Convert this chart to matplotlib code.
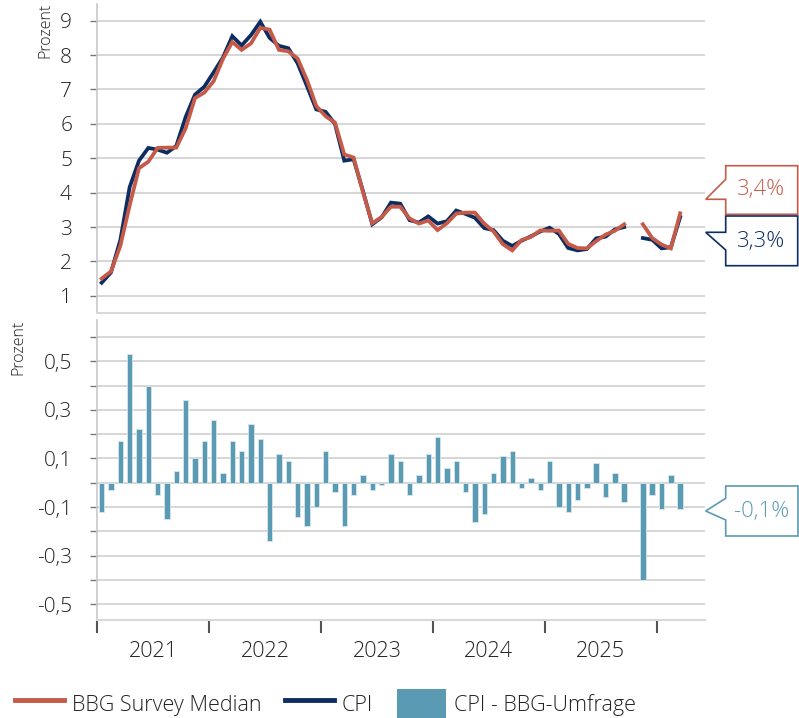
import numpy as np
import matplotlib
matplotlib.use('Agg')
import matplotlib.pyplot as plt
from matplotlib.patches import Polygon, Patch
from matplotlib.lines import Line2D

plt.rcParams['font.family'] = ['Open Sans', 'DejaVu Sans']

nan = np.nan
# monthly values, Jan 2021 .. Mar 2026 (Oct 2025 missing)
cpi = [1.38, 1.68, 2.62, 4.16, 4.93, 5.30, 5.25, 5.16, 5.36, 6.20, 6.85, 7.08,
       7.50, 7.93, 8.55, 8.28, 8.58, 8.97, 8.50, 8.27, 8.20, 7.76, 7.10, 6.42,
       6.35, 6.00, 4.93, 4.97, 4.05, 3.08, 3.28, 3.71, 3.68, 3.20, 3.13, 3.31,
       3.10, 3.17, 3.48, 3.38, 3.27, 2.97, 2.91, 2.60, 2.45, 2.60, 2.73, 2.87,
       2.98, 2.80, 2.39, 2.32, 2.36, 2.67, 2.72, 2.93, 3.00, nan, 2.68, 2.63,
       2.38, 2.41, 3.29]
survey = [1.50, 1.71, 2.45, 3.63, 4.71, 4.90, 5.30, 5.31, 5.31, 5.87, 6.75, 6.91,
          7.24, 7.89, 8.38, 8.15, 8.34, 8.79, 8.74, 8.15, 8.11, 7.90, 7.28, 6.52,
          6.22, 6.04, 5.11, 5.02, 4.02, 3.11, 3.29, 3.59, 3.59, 3.25, 3.10, 3.19,
          2.91, 3.11, 3.39, 3.42, 3.42, 3.10, 2.87, 2.50, 2.32, 2.62, 2.71, 2.90,
          2.89, 2.90, 2.51, 2.39, 2.38, 2.59, 2.78, 2.89, 3.08, nan, 3.08, 2.68,
          2.49, 2.38, 3.40]
diff = [-0.12, -0.03, 0.17, 0.53, 0.22, 0.40, -0.05, -0.15, 0.05, 0.34, 0.10, 0.17,
        0.26, 0.04, 0.17, 0.13, 0.24, 0.18, -0.24, 0.12, 0.09, -0.14, -0.18, -0.10,
        0.13, -0.04, -0.18, -0.05, 0.03, -0.03, -0.01, 0.12, 0.09, -0.05, 0.03, 0.12,
        0.19, 0.06, 0.09, -0.04, -0.16, -0.13, 0.04, 0.11, 0.13, -0.02, 0.02, -0.03,
        0.09, -0.10, -0.12, -0.07, -0.02, 0.08, -0.06, 0.04, -0.08, nan, -0.40, -0.05,
        -0.11, 0.03, -0.11]
years = ['2021', '2022', '2023', '2024', '2025']

c_cpi = '#0c2d62'
c_survey = '#c65a48'
c_bar = '#5b9ab3'
c_grid = '#d0d0d0'
c_text = '#222222'

x = np.arange(len(cpi))
W, H = 799, 718

fig = plt.figure(figsize=(W / 100, H / 100), dpi=100)

def box(l, t, r, b):
    return [l / W, 1 - b / H, (r - l) / W, (b - t) / H]

ax1 = fig.add_axes(box(97, 3.5, 705, 313))
ax2 = fig.add_axes(box(97, 320, 705, 620))

# top panel
ax1.plot(x, cpi, color=c_cpi, lw=2.7, solid_joinstyle='miter', zorder=3)
ax1.plot(x, survey, color=c_survey, lw=2.7, solid_joinstyle='miter', zorder=4)
ax1.set_ylim(0.5, 9.5)
ax1.set_yticks(range(1, 10))
ax1.grid(axis='y', color=c_grid, lw=1.2)
ax1.set_axisbelow(True)

# bottom panel
ax2.bar(x, diff, width=0.58, color=c_bar, edgecolor='#d5e7ee', linewidth=0.6, zorder=3)
ax2.set_ylim(-0.565, 0.67)
ticks = np.round(np.arange(-0.5, 0.61, 0.1), 1)
ax2.set_yticks(ticks)
ax2.set_yticklabels([f'{t:.1f}'.replace('.', ',') if round(abs(t) * 10) % 2 == 1 else '' for t in ticks])
ax2.grid(axis='y', color=c_grid, lw=1.2)
ax2.set_axisbelow(True)

for ax in (ax1, ax2):
    ax.set_xlim(-0.5, 64.66)
    for s in ('top', 'right'):
        ax.spines[s].set_visible(False)
    ax.spines['left'].set_color('#c8c8c8')
    ax.spines['left'].set_linewidth(1.2)
    ax.spines['bottom'].set_color('#d8d8d8')
    ax.spines['bottom'].set_linewidth(1.5)
    ax.tick_params(axis='y', length=5, width=1, color='#777777', labelsize=15, labelcolor=c_text, pad=13)

ax1.set_xticks([])

bounds = [-0.5 + 12 * k for k in range(len(years) + 1)]
ax2.set_xticks(bounds)
ax2.set_xticklabels([])
ax2.tick_params(axis='x', which='major', length=9, width=1.5, color='#555555', direction='out')
ax2.set_xticks([5.5 + 12 * k for k in range(len(years))], minor=True)
ax2.set_xticklabels(years, minor=True)
ax2.tick_params(axis='x', which='minor', length=0, pad=15, labelsize=15.5, labelcolor=c_text)

for t in ax1.get_yticklabels() + ax2.get_yticklabels() + ax2.get_xticklabels(minor=True):
    t.set_fontweight('light')

fig.text(45 / W, 1 - 3 / H, 'Prozent', rotation=90, ha='center', va='top', fontsize=11.5, color=c_text, fontweight='light')
fig.text(18 / W, 1 - 320 / H, 'Prozent', rotation=90, ha='center', va='top', fontsize=11.5, color=c_text, fontweight='light')

# callouts
def callout(pts, color, text, cx, cy):
    poly = Polygon([(px / W, 1 - py / H) for px, py in pts], closed=True, transform=fig.transFigure,
                   facecolor='white', edgecolor=color, lw=1.2, zorder=10)
    fig.patches.append(poly)
    fig.text(cx / W, 1 - cy / H, text, ha='center', va='center', fontsize=16, color=color,
             fontweight='light', zorder=11)

fmt = lambda v: f'{v:.1f}'.replace('.', ',') + '%'
callout([(725.7, 165.7), (797.7, 165.7), (797.7, 214.3), (725.7, 214.3), (725.7, 199.3),
         (705.7, 199.3), (725.7, 179.3)], c_survey, fmt(survey[-1]), 761.5, 190)
callout([(725.7, 216), (797.7, 216), (797.7, 265.7), (725.7, 265.7), (725.7, 250),
         (705.7, 232.3), (725.7, 232.3)], c_cpi, fmt(cpi[-1]), 761.5, 241)
callout([(725.7, 486), (798, 486), (798, 536), (725.7, 536), (725.7, 520),
         (705.7, 511), (725.7, 498.3)], c_bar, fmt(diff[-1]), 762, 511)

handles = [Line2D([], [], color=c_survey, lw=3.5),
           Line2D([], [], color=c_cpi, lw=3.5),
           Patch(facecolor=c_bar, edgecolor='none')]
labels = ['BBG Survey Median', 'CPI', 'CPI - BBG-Umfrage']
leg = fig.legend(handles, labels, loc='center', bbox_to_anchor=(0.407, 1 - 704 / H), ncol=3,
                 frameon=False, fontsize=15.5, handlelength=2.3, handleheight=1.8,
                 handletextpad=0.35, columnspacing=1.1, borderpad=0)
for t in leg.get_texts():
    t.set_fontweight('light')
    t.set_color(c_text)

fig.savefig('out.png', dpi=100)
